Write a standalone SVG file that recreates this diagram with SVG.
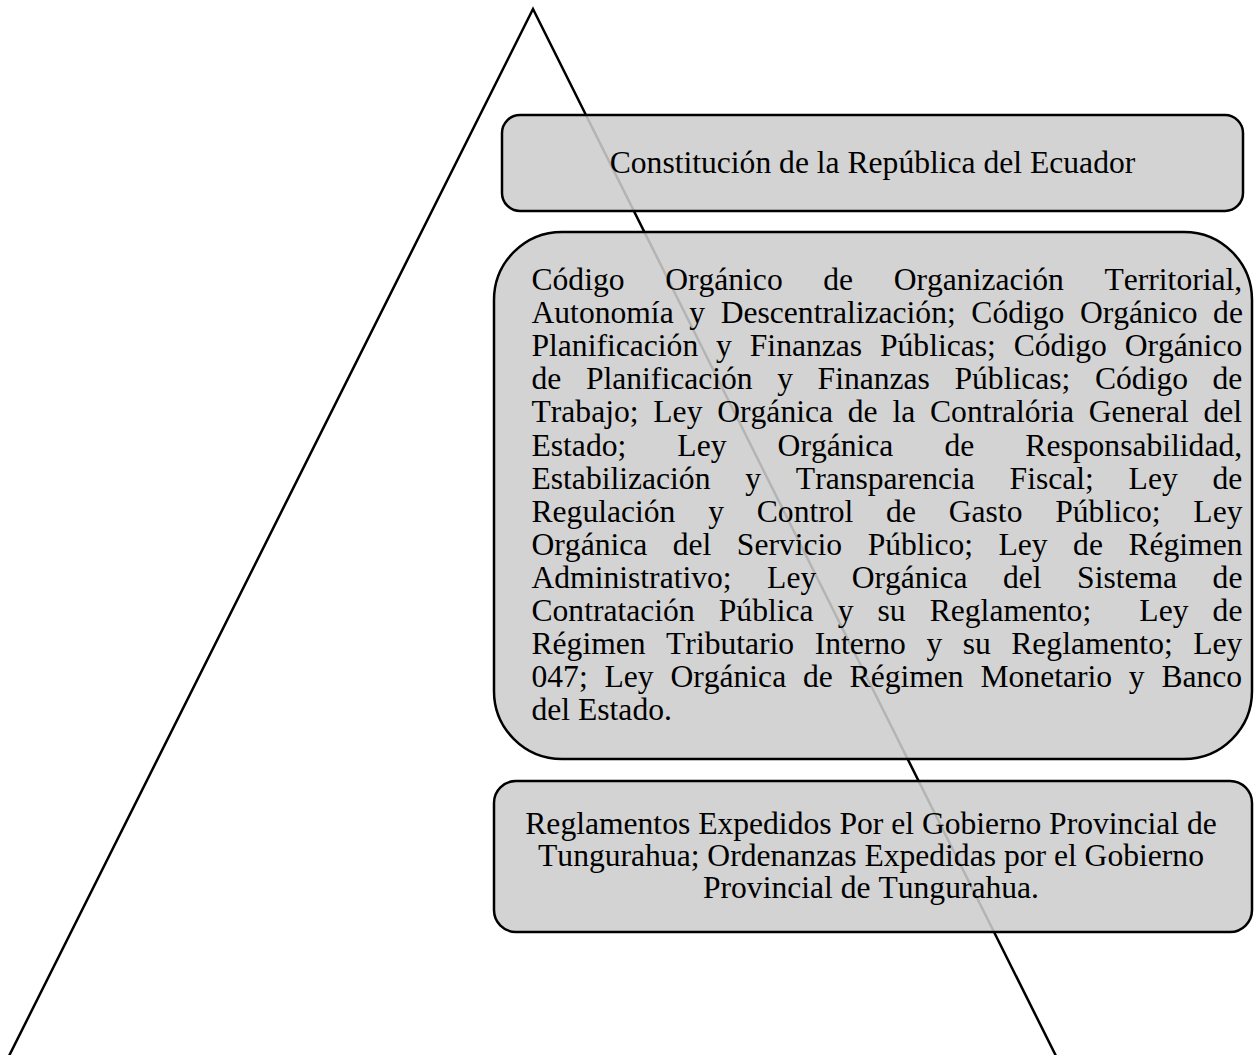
<svg xmlns="http://www.w3.org/2000/svg" width="1259" height="1055" viewBox="0 0 1259 1055">
<style>
.box{fill:#cdcdcd;fill-opacity:0.88;stroke:#000;stroke-width:2.5}
.t{font-family:"Liberation Serif","Times New Roman",serif;font-size:31.6px;fill:#000;font-kerning:none}
.c{text-anchor:middle}
.edge{fill:none;stroke:#000;stroke-width:2.5}
</style>
<rect width="1259" height="1055" fill="#fff"/>
<g id="connectors">
<path class="edge" d="M8,1058 L533,9 L1057,1058"/>
</g>
<g id="node-constitucion">
<rect class="box" x="502" y="115" width="741" height="96" rx="18"/>
<text class="t c" x="872.5" y="173">Constitución de la República del Ecuador</text>
</g>
<g id="node-leyes">
<rect class="box" x="494" y="232" width="758" height="527" rx="68"/>
<text class="t" x="531.5" y="290" style="word-spacing:32.7px">Código Orgánico de Organización Territorial,</text>
<text class="t" x="531.5" y="323.1" style="word-spacing:7.7px">Autonomía y Descentralización; Código Orgánico de</text>
<text class="t" x="531.5" y="356.2" style="word-spacing:10px">Planificación y Finanzas Públicas; Código Orgánico</text>
<text class="t" x="531.5" y="389.3" style="word-spacing:16.7px">de Planificación y Finanzas Públicas; Código de</text>
<text class="t" x="531.5" y="422.4" style="word-spacing:6.9px">Trabajo; Ley Orgánica de la Contralória General del</text>
<text class="t" x="531.5" y="455.5" style="word-spacing:43.2px">Estado; Ley Orgánica de Responsabilidad,</text>
<text class="t" x="531.5" y="488.6" style="word-spacing:26.9px">Estabilización y Transparencia Fiscal; Ley de</text>
<text class="t" x="531.5" y="521.7" style="word-spacing:24.9px">Regulación y Control de Gasto Público; Ley</text>
<text class="t" x="531.5" y="554.8" style="word-spacing:17.6px">Orgánica del Servicio Público; Ley de Régimen</text>
<text class="t" x="531.5" y="587.9" style="word-spacing:27.6px">Administrativo; Ley Orgánica del Sistema de</text>
<text class="t" x="531.5" y="621" style="word-spacing:16.2px;white-space:pre">Contratación Pública y su Reglamento;  Ley de</text>
<text class="t" x="531.5" y="654.1" style="word-spacing:12.6px">Régimen Tributario Interno y su Reglamento; Ley</text>
<text class="t" x="531.5" y="687.2" style="word-spacing:8.9px">047; Ley Orgánica de Régimen Monetario y Banco</text>
<text class="t" x="531.5" y="720.3">del Estado.</text>
</g>
<g id="node-reglamentos">
<rect class="box" x="494" y="781" width="758" height="151" rx="22"/>
<text class="t c" x="871" y="834">Reglamentos Expedidos Por el Gobierno Provincial de</text>
<text class="t c" x="871" y="866">Tungurahua; Ordenanzas Expedidas por el Gobierno</text>
<text class="t c" x="871" y="898">Provincial de Tungurahua.</text>
</g>
</svg>
